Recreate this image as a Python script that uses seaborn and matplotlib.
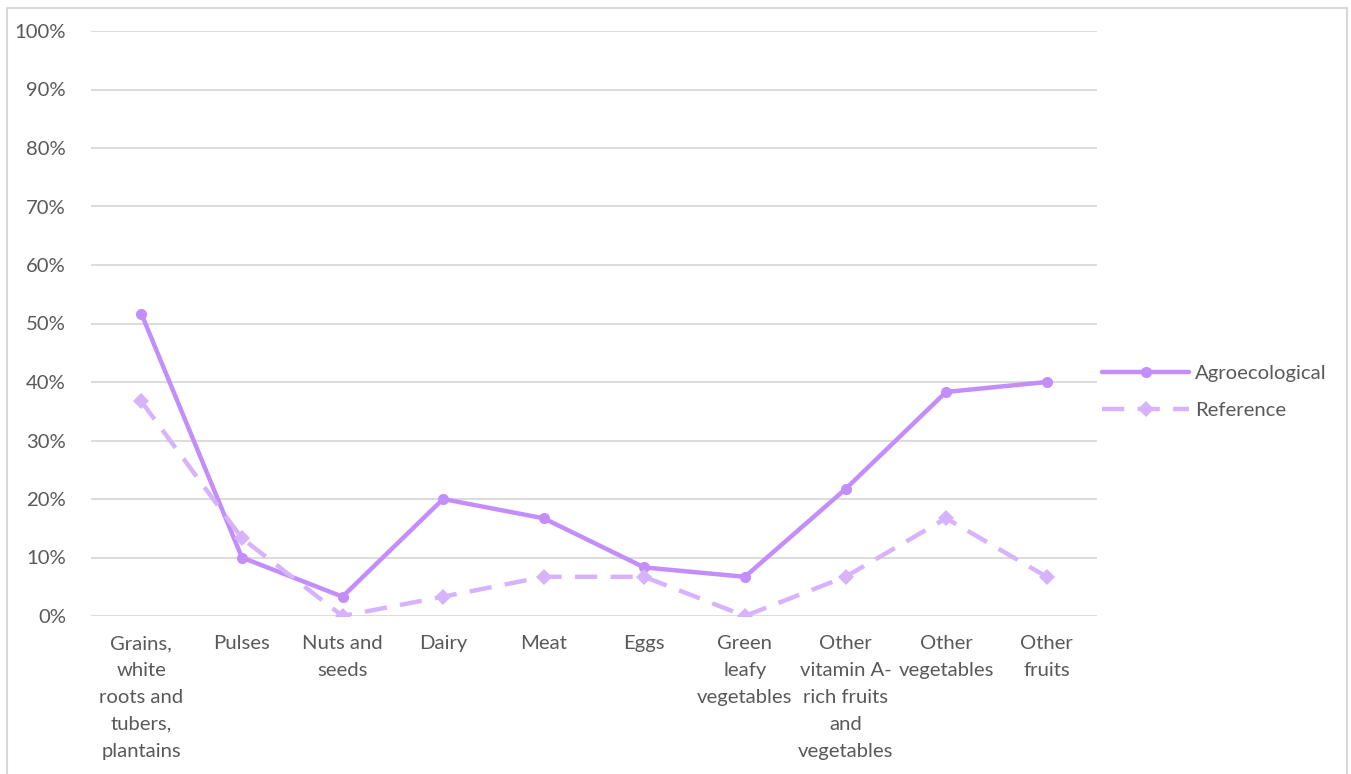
import matplotlib
matplotlib.use("Agg")
import matplotlib.pyplot as plt
from matplotlib.patches import Rectangle
from matplotlib.ticker import PercentFormatter
import pandas as pd
import seaborn as sns

# Food groups consumed (share of households)
categories = [
    "Grains,\nwhite\nroots and\ntubers,\nplantains",
    "Pulses",
    "Nuts and\nseeds",
    "Dairy",
    "Meat",
    "Eggs",
    "Green\nleafy\nvegetables",
    "Other\nvitamin A-\nrich fruits\nand\nvegetables",
    "Other\nvegetables",
    "Other\nfruits",
]
agroecological = [51.7, 10.0, 3.3, 20.0, 16.7, 8.3, 6.7, 21.7, 38.3, 40.0]
reference = [36.7, 13.3, 0.0, 3.3, 6.7, 6.7, 0.0, 6.7, 16.7, 6.7]
series_names = ["Agroecological", "Reference"]
y_ticks = [0, 10, 20, 30, 40, 50, 60, 70, 80, 90, 100]

df = pd.DataFrame({
    "category": categories * 2,
    "value": agroecological + reference,
    "series": [series_names[0]] * len(categories) + [series_names[1]] * len(categories),
})

sns.set_theme(style="white")
plt.rcParams["font.family"] = ["Lato", "DejaVu Sans"]

text_color = "#595959"
grid_color = "#D9D9D9"
palette = {"Agroecological": "#C38DFB", "Reference": "#D6B3FC"}
fs = 14.6

fig = plt.figure(figsize=(13.51, 7.74), dpi=100)
W, H = 1351, 774
ax = fig.add_axes([91 / W, 1 - 616 / H, (1097 - 91) / W, (616 - 31) / H])

sns.lineplot(
    data=df, x="category", y="value", hue="series", style="series",
    palette=palette,
    dashes={"Agroecological": "", "Reference": (5, 3)},
    markers={"Agroecological": "o", "Reference": "D"},
    markersize=8, markeredgewidth=0, linewidth=3.2,
    sort=False, ax=ax,
)

ax.set_xlim(-0.5, len(categories) - 0.5)
ax.set_ylim(0, 100)
ax.set_yticks(y_ticks)
ax.yaxis.set_major_formatter(PercentFormatter(decimals=0))
ax.grid(axis="y", color=grid_color, linewidth=1.3)
ax.grid(axis="x", visible=False)
ax.set_axisbelow(True)
for s in ax.spines.values():
    s.set_visible(False)
ax.set_xlabel("")
ax.set_ylabel("")
ax.tick_params(axis="both", length=0, labelsize=fs, colors=text_color)
ax.tick_params(axis="y", pad=18)
ax.tick_params(axis="x", pad=14)
for lbl in ax.get_xticklabels():
    lbl.set_linespacing(1.7)
    lbl.set_horizontalalignment("center")

leg = ax.legend(
    loc="center left", bbox_to_anchor=(0.997, 0.383), frameon=False,
    fontsize=fs, handlelength=4.3, handletextpad=0.3, labelspacing=0.95,
    borderaxespad=0.0,
)
for t in leg.get_texts():
    t.set_color(text_color)

# Light frame around the chart area
fig.patches.append(Rectangle(
    (7 / W, -0.05), (1347 - 7) / W, 1 - 8 / H + 0.05,
    transform=fig.transFigure, fill=False, edgecolor=grid_color, linewidth=1.5,
))

fig.savefig("out.png", dpi=100, facecolor="white")
